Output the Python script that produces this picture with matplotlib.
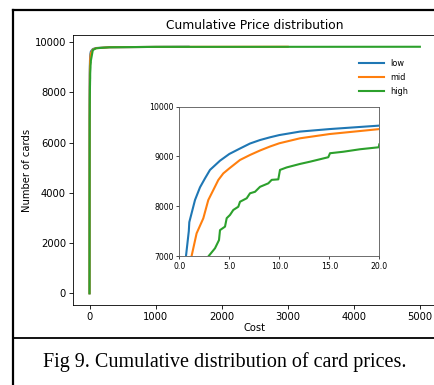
import matplotlib
matplotlib.use("Agg")
import matplotlib.pyplot as plt
from matplotlib.lines import Line2D

# ---- data (cost, cumulative number of cards) ----
low_cost = [0.0, 0.1, 0.25, 0.5, 0.67, 0.95, 1.0, 1.57, 2.07, 2.57, 3.07, 4.07, 5.0, 6.07, 7.07,
            8.07, 9.07, 10.0, 12.07, 15.0, 20.0, 50, 100, 300, 1000, 1500]
low_count = [0, 1500, 4500, 6300, 7000, 7500, 7680, 8125, 8380, 8560, 8730, 8915, 9050, 9160, 9260,
             9330, 9385, 9430, 9500, 9550, 9620, 9720, 9760, 9790, 9805, 9810]

mid_cost = [0.0, 0.25, 0.5, 1.0, 1.23, 1.73, 2.4, 2.9, 3.4, 3.9, 4.4, 5.0, 6.07, 7.07, 8.07, 9.07,
            10.0, 12.07, 15.0, 20.0, 50, 100, 300, 1000, 3000]
mid_count = [0, 2500, 4500, 6500, 7000, 7455, 7757, 8125, 8325, 8527, 8660, 8760, 8930, 9030, 9120, 9200,
             9265, 9365, 9450, 9550, 9700, 9755, 9790, 9805, 9810]

high_cost = [0.0, 0.5, 1.0, 2.0, 2.9, 3.57, 3.97, 4.07, 4.57, 4.74, 5.07, 5.4, 5.9, 6.07, 6.74, 7.07,
             7.57, 8.07, 8.9, 9.24, 9.9, 10.07, 10.74, 12.07, 13.07, 14.9, 15.07, 16.4, 18.07, 19.95,
             20.0, 50, 100, 300, 1000, 5000]
high_count = [0, 2000, 3800, 5800, 6990, 7155, 7320, 7520, 7590, 7760, 7825, 7925, 7990, 8090, 8160, 8260,
              8290, 8390, 8460, 8530, 8540, 8730, 8780, 8850, 8895, 8985, 9065, 9095, 9145, 9185,
              9250, 9680, 9750, 9790, 9805, 9810]

labels = ["low", "mid", "high"]
colors = ["#1f77b4", "#ff7f0e", "#2ca02c"]
series = [(low_cost, low_count), (mid_cost, mid_count), (high_cost, high_count)]

main_xticks = [0, 1000, 2000, 3000, 4000, 5000]
main_yticks = [0, 2000, 4000, 6000, 8000, 10000]
inset_xticks = [0.0, 5.0, 10.0, 15.0, 20.0]
inset_yticks = [7000, 8000, 9000, 10000]

W, H = 435, 385
fig = plt.figure(figsize=(W / 100, H / 100), dpi=100)
fig.patch.set_facecolor("white")

def fx(px):
    return px / W

def fy(py):
    return 1 - py / H

# main axes
ax = fig.add_axes([fx(73), fy(305), fx(436.4) - fx(73), fy(35) - fy(305)])
for (c, n), lab, col in zip(series, labels, colors):
    ax.plot(c, n, color=col, lw=1.5, label=lab)
ax.set_xlim(-250, 5250)
ax.set_ylim(-466, 10278)
ax.set_xticks(main_xticks)
ax.set_yticks(main_yticks)
ax.tick_params(labelsize=7.2, length=3, width=0.6, pad=2)
for s in ax.spines.values():
    s.set_linewidth(0.6)
ax.set_title("Cumulative Price distribution", fontsize=8.8, pad=4)
ax.set_xlabel("Cost", fontsize=7.2, labelpad=1)
ax.set_ylabel("Number of cards", fontsize=7.2, labelpad=2)
handles = [Line2D([], [], color=col, lw=1.5) for col in colors]
ax.legend(handles, labels, frameon=False, fontsize=5.9, handlelength=3.0,
          loc="upper left", bbox_to_anchor=(fx(356), fy(56)), bbox_transform=fig.transFigure,
          labelspacing=0.6, handletextpad=0.8, borderaxespad=0)

# inset axes
ins = fig.add_axes([fx(179.3), fy(256), fx(379.3) - fx(179.3), fy(106.7) - fy(256)])
for (c, n), col in zip(series, colors):
    ins.plot(c, n, color=col, lw=1.5)
ins.set_xlim(0, 20)
ins.set_ylim(7000, 10000)
ins.set_xticks(inset_xticks)
ins.set_xticklabels([f"{v:.1f}" for v in inset_xticks])
ins.set_yticks(inset_yticks)
ins.tick_params(labelsize=5.6, length=2.5, width=0.5, pad=1.5)
for s in ins.spines.values():
    s.set_linewidth(0.6)
    s.set_edgecolor("#555555")

# frame and caption
fig.add_artist(Line2D([fx(13), fx(13)], [fy(10), fy(400)], color="black", lw=1.6,
                      transform=fig.transFigure, solid_capstyle="projecting"))
fig.add_artist(Line2D([fx(13), fx(440)], [fy(10), fy(10)], color="black", lw=1.6,
                      transform=fig.transFigure, solid_capstyle="projecting"))
fig.add_artist(Line2D([fx(13), fx(440)], [fy(338.3), fy(338.3)], color="black", lw=1.3,
                      transform=fig.transFigure))
fig.text(fx(225), fy(362), "Fig 9. Cumulative distribution of card prices.",
         family="Liberation Serif", fontsize=14.5, ha="center", va="center")

fig.savefig("out.png", dpi=100)
